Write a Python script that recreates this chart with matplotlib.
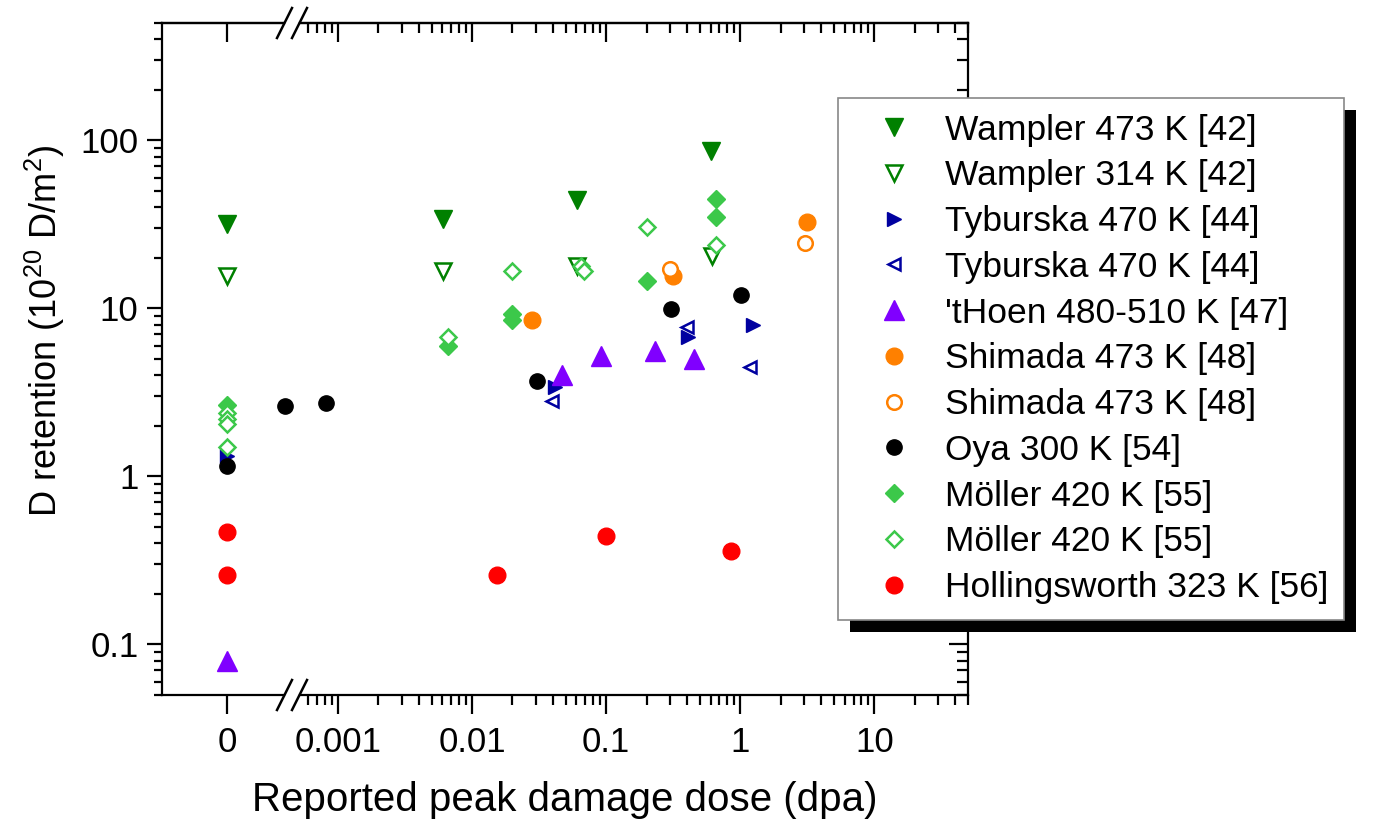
import numpy as np
import matplotlib.pyplot as plt
from matplotlib.lines import Line2D
from matplotlib.patches import Rectangle
from matplotlib.ticker import LogLocator, NullFormatter, FuncFormatter, FixedLocator

plt.rcParams['font.family'] = ['Liberation Sans', 'DejaVu Sans']
plt.rcParams['mathtext.fontset'] = 'custom'
plt.rcParams['mathtext.rm'] = 'Liberation Sans'
plt.rcParams['mathtext.it'] = 'Liberation Sans:italic'

# dose == 0 goes into the narrow left panel, everything else on the log panel
wampler473_dose = [0, 0.0061, 0.061, 0.61]
wampler473_ret = [32, 34, 44.5, 86]
wampler314_dose = [0, 0.0061, 0.061, 0.62]
wampler314_ret = [15.7, 16.6, 17.8, 20.4]
tyb_fill_dose = [0, 0.0416, 0.41, 1.25]
tyb_fill_ret = [1.33, 3.4, 6.8, 8.0]
tyb_open_dose = [0.0395, 0.40, 1.19]
tyb_open_ret = [2.8, 7.7, 4.5]
thoen_dose = [0, 0.047, 0.092, 0.232, 0.454]
thoen_ret = [0.08, 4.0, 5.2, 5.6, 5.0]
shim_fill_dose = [0.028, 0.316, 3.16]
shim_fill_ret = [8.5, 15.5, 32.5]
shim_open_dose = [0.30, 3.06]
shim_open_ret = [17.1, 24.4]
oya_dose = [0, 0.0004, 0.00081, 0.0306, 0.305, 1.02]
oya_ret = [1.15, 2.61, 2.72, 3.68, 9.86, 12.1]
moller_fill_dose = [0, 0.0066, 0.020, 0.020, 0.20, 0.66, 0.66]
moller_fill_ret = [2.65, 5.94, 9.3, 8.5, 14.5, 45, 34.8]
moller_open_dose = [0, 0, 0, 0, 0.0066, 0.020, 0.065, 0.068, 0.20, 0.66]
moller_open_ret = [2.4, 2.2, 2.04, 1.5, 6.8, 16.6, 18, 16.8, 30.4, 24]
holl_dose = [0, 0, 0.0154, 0.1, 0.857]
holl_ret = [0.47, 0.26, 0.26, 0.44, 0.358]

dkgreen = '#008000'
navy = '#0000A0'
violet = '#8000FF'
orange = '#FF8000'
ltgreen = '#3CC84A'

series = [
    ('Wampler 473 K [42]', wampler473_dose, wampler473_ret,
     dict(marker='v', ms=13, color=dkgreen)),
    ('Wampler 314 K [42]', wampler314_dose, wampler314_ret,
     dict(marker='v', ms=12, color=dkgreen, mfc='white', mew=1.8)),
    ('Tyburska 470 K [44]', tyb_fill_dose, tyb_fill_ret,
     dict(marker='>', ms=10, color=navy)),
    ('Tyburska 470 K [44]', tyb_open_dose, tyb_open_ret,
     dict(marker='<', ms=9, color=navy, mfc='white', mew=1.8)),
    ("'tHoen 480-510 K [47]", thoen_dose, thoen_ret,
     dict(marker='^', ms=14, color=violet)),
    ('Shimada 473 K [48]', shim_fill_dose, shim_fill_ret,
     dict(marker='o', ms=12, color=orange)),
    ('Shimada 473 K [48]', shim_open_dose, shim_open_ret,
     dict(marker='o', ms=10.5, color=orange, mfc='white', mew=1.8)),
    ('Oya 300 K [54]', oya_dose, oya_ret,
     dict(marker='o', ms=11, color='black')),
    ('Möller 420 K [55]', moller_fill_dose, moller_fill_ret,
     dict(marker='D', ms=9, color=ltgreen)),
    ('Möller 420 K [55]', moller_open_dose, moller_open_ret,
     dict(marker='D', ms=8, color=ltgreen, mfc='white', mew=1.8)),
    ('Hollingsworth 323 K [56]', holl_dose, holl_ret,
     dict(marker='o', ms=12, color='red')),
]

W, H = 1373, 825
fig = plt.figure(figsize=(W / 100, H / 100), dpi=100)


def fbox(x0, x1, ytop, ybot):
    return [x0 / W, 1 - ybot / H, (x1 - x0) / W, (ybot - ytop) / H]


ax0 = fig.add_axes(fbox(162, 284, 23, 695))
ax1 = fig.add_axes(fbox(300, 968, 23, 695))

for ax in (ax0, ax1):
    ax.set_yscale('log')
    ax.set_ylim(0.05, 500)
    for s in ax.spines.values():
        s.set_linewidth(1.6)
ax0.spines['right'].set_visible(False)
ax1.spines['left'].set_visible(False)

# left panel: just the zero column
ax0.set_xlim(-1, 0.877)
ax0.set_xticks([0])
ax0.set_xticklabels(['0'])
ax0.yaxis.set_major_locator(FixedLocator([0.1, 1, 10, 100]))
ax0.yaxis.set_major_formatter(FuncFormatter(lambda v, p: '%g' % v))
ax0.yaxis.set_minor_locator(LogLocator(base=10, subs=np.arange(2, 10), numticks=100))
ax0.yaxis.set_minor_formatter(NullFormatter())
ax0.tick_params(axis='y', which='both', direction='out', left=True, right=False,
                labelsize=25, pad=6, width=1.6)
ax0.tick_params(axis='y', which='major', length=11)
ax0.tick_params(axis='y', which='minor', length=6)
ax0.tick_params(axis='x', which='major', direction='out', length=14, width=1.6,
                labelsize=25, pad=8)
top0 = ax0.secondary_xaxis('top')
top0.set_xticks([0])
top0.tick_params(axis='x', direction='in', length=14, width=1.6, labeltop=False)
top0.spines['top'].set_linewidth(1.6)

# right panel: log dose axis
ax1.set_xscale('log')
ax1.set_xlim(5.2e-4, 50)
ax1.xaxis.set_major_locator(LogLocator(base=10, numticks=20))
ax1.xaxis.set_major_formatter(FuncFormatter(lambda v, p: '%g' % v))
ax1.xaxis.set_minor_locator(LogLocator(base=10, subs=np.arange(2, 10), numticks=100))
ax1.xaxis.set_minor_formatter(NullFormatter())
ax1.tick_params(axis='x', which='both', direction='out', width=1.6, labelsize=25, pad=8)
ax1.tick_params(axis='x', which='major', length=14)
ax1.tick_params(axis='x', which='minor', length=7)
ax1.yaxis.set_minor_locator(LogLocator(base=10, subs=np.arange(2, 10), numticks=100))
ax1.tick_params(axis='y', which='both', direction='in', left=False, right=True,
                labelleft=False, labelright=False, width=1.6)
ax1.tick_params(axis='y', which='major', length=14)
ax1.tick_params(axis='y', which='minor', length=8)

top1 = ax1.secondary_xaxis('top')
top1.xaxis.set_major_locator(LogLocator(base=10, numticks=20))
top1.xaxis.set_minor_locator(LogLocator(base=10, subs=np.arange(2, 10), numticks=100))
top1.tick_params(axis='x', which='both', direction='in', width=1.6,
                 labeltop=False)
top1.tick_params(axis='x', which='major', length=14)
top1.tick_params(axis='x', which='minor', length=7)
top1.spines['top'].set_linewidth(1.6)

handles = []
for label, dose, ret, style in series:
    dose = np.asarray(dose, float)
    ret = np.asarray(ret, float)
    z = dose == 0
    ax0.plot(dose[z], ret[z], ls='none', clip_on=False, zorder=3, **style)
    ax1.plot(dose[~z], ret[~z], ls='none', clip_on=False, zorder=3, **style)
    handles.append(Line2D([], [], ls='none', label=label, **style))

# axis break marks on top and bottom
for yc in (23, 695):
    for xc in (284.5, 299.5):
        fig.add_artist(Line2D([(xc - 7.5) / W, (xc + 7.5) / W],
                              [1 - (yc + 15) / H, 1 - (yc - 15) / H],
                              color='black', lw=1.8))

fig.text(565 / W, 1 - 800 / H, 'Reported peak damage dose (dpa)',
         ha='center', va='center', fontsize=29)
fig.text(45 / W, 1 - 331 / H, 'D retention (10$^{20}$ D/m$^{2}$)',
         ha='center', va='center', rotation=90, fontsize=26)

leg = fig.legend(handles=handles, loc='upper left',
                 bbox_to_anchor=(838 / W, 1 - 98 / H), borderaxespad=0,
                 fontsize=25.5, frameon=True, fancybox=False, framealpha=1,
                 edgecolor='#888888', borderpad=0.44, handlelength=2.28,
                 handletextpad=0.3, labelspacing=0.36)
leg.get_frame().set_linewidth(1.2)

# black drop shadow behind the legend
fig.canvas.draw()
bb = leg.get_window_extent()
fig.add_artist(Rectangle(((bb.x0 + 12) / W, (bb.y0 - 12) / H), bb.width / W, bb.height / H,
                         transform=fig.transFigure, facecolor='black',
                         edgecolor='none', zorder=4.9))

fig.savefig('out.png', dpi=100)
